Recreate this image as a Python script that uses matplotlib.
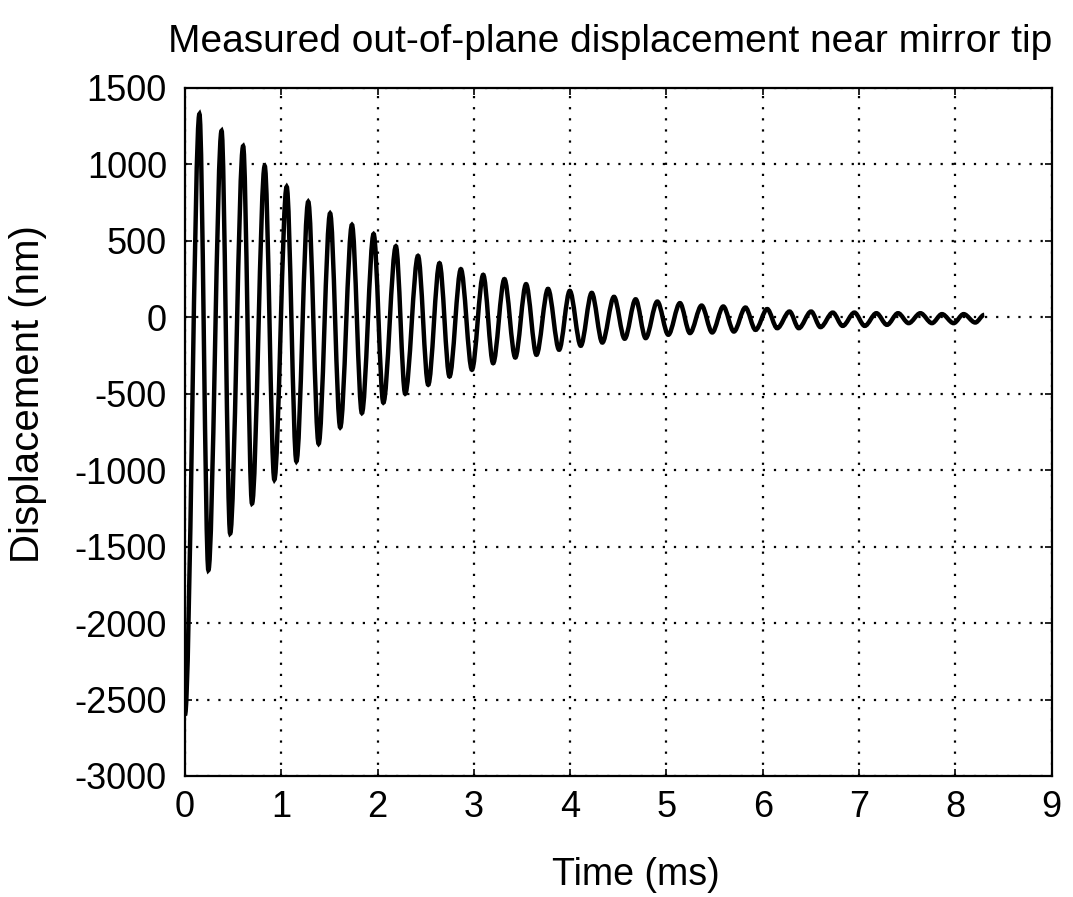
import numpy as np
import matplotlib
matplotlib.use('Agg')
import matplotlib.pyplot as plt
from matplotlib.path import Path
from matplotlib.patches import PathPatch

plt.rcParams['font.family'] = ['Liberation Sans', 'DejaVu Sans']
plt.rcParams['axes.unicode_minus'] = False

#Extrema of the measured ringdown (time in ms, displacement in nm)
t_ext = [0.0, 0.15, 0.243, 0.38, 0.469, 0.604, 0.696, 0.828, 0.928, 1.056,
         1.157, 1.28, 1.388, 1.507, 1.612, 1.734, 1.837, 1.959, 2.06, 2.19,
         2.287, 2.42, 2.526, 2.643, 2.747, 2.865, 2.98, 3.097, 3.2, 3.317,
         3.43, 3.542, 3.65, 3.77, 3.885, 3.996, 4.11, 4.224, 4.334, 4.455,
         4.566, 4.68, 4.784, 4.905, 5.019, 5.14, 5.244, 5.365, 5.475, 5.59,
         5.70, 5.82, 5.925, 6.046, 6.15, 6.278, 6.374, 6.502, 6.6, 6.727,
         6.83, 6.952, 7.059, 7.18, 7.29, 7.405, 7.515, 7.637, 7.757, 7.861,
         7.982, 8.086, 8.207, 8.30]
d_ext = [-2600, 1330, -1654, 1220, -1414, 1120, -1218, 990, -1062, 854,
         -942, 756, -827, 680, -720, 605, -626, 545, -558, 465,
         -500, 402, -441, 354, -387, 315, -343, 278, -300, 250,
         -263, 217, -245, 186, -212, 173, -186, 160, -165, 134,
         -140, 118, -136, 103, -114, 93, -103, 77, -99, 71,
         -93, 64, -82, 54, -71, 38, -71, 38, -64, 31,
         -56, 31, -56, 27, -49, 27, -38, 27, -38, 21,
         -38, 21, -34, 16]

x_ticks = np.arange(0, 10, 1)
y_ticks = np.arange(-3000, 1501, 500)

fig = plt.figure(figsize=(10.73, 8.97), dpi=100)
ax = fig.add_axes([0.1724, 0.1349, 0.8077, 0.767])

#smooth curve: cubic segments with flat tangents at each extremum
verts = [(t_ext[0], d_ext[0])]
codes = [Path.MOVETO]
for i in range(len(t_ext) - 1):
    dt = t_ext[i+1] - t_ext[i]
    verts += [(t_ext[i] + dt/3, d_ext[i]), (t_ext[i+1] - dt/3, d_ext[i+1]), (t_ext[i+1], d_ext[i+1])]
    codes += [Path.CURVE4] * 3
ax.add_patch(PathPatch(Path(verts, codes), facecolor='none', edgecolor='black', lw=3.2, zorder=3))

ax.set_xlim(0, 9)
ax.set_ylim(-3000, 1500)
ax.set_xticks(x_ticks)
ax.set_yticks(y_ticks)
ax.grid(True, color='black', linestyle=(0, (1, 4)), linewidth=1.6)
ax.tick_params(direction='in', length=5, width=1.2, labelsize=26, top=True, right=True)
ax.tick_params(axis='x', pad=10)
ax.tick_params(axis='y', pad=13)
for s in ax.spines.values():
    s.set_linewidth(1.6)
ax.set_xlabel('Time (ms)', fontsize=27)
ax.set_ylabel('Displacement (nm)', fontsize=29)
ax.xaxis.set_label_coords(0.52, -0.118)
ax.yaxis.set_label_coords(-0.159, 0.555)
ax.set_title('Measured out-of-plane displacement near mirror tip', fontsize=28, pad=26, x=0.49)

fig.savefig('out.png', dpi=100)
